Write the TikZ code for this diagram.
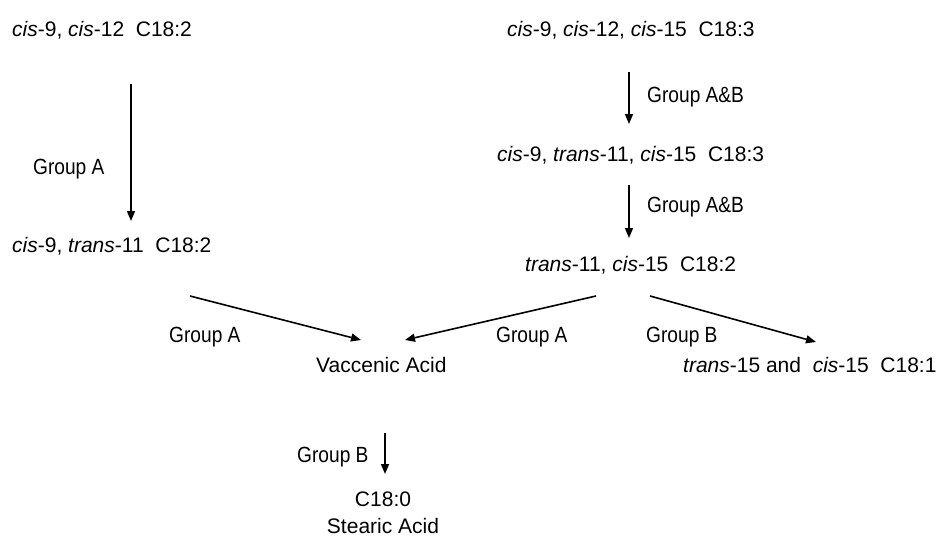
\documentclass[tikz,border=0pt]{standalone}
\usepackage{fontspec}
\setmainfont{Liberation Sans}
\newfontfamily\grpfont[FakeStretch=0.87]{Liberation Sans}
\usetikzlibrary{arrows.meta}
\tikzset{
  lbl/.style={inner sep=0pt, anchor=base west, font=\fontsize{21}{25}\selectfont},
  clbl/.style={inner sep=0pt, anchor=base, font=\fontsize{21}{25}\selectfont},
  grp/.style={inner sep=0pt, anchor=base west, font=\grpfont\fontsize{22}{26}\selectfont},
  arr/.style={line width=1.6pt, -{Triangle[length=10pt,width=8pt]}}
}
\begin{document}
\begin{tikzpicture}[x=1pt,y=-1pt]
\useasboundingbox (0,0) rectangle (939,538);
% compounds
\node[lbl] (t1) at (12,36) {\textit{cis}-9, \textit{cis}-12\ \ C18:2};
\node[lbl] (t2) at (507,36) {\textit{cis}-9, \textit{cis}-12, \textit{cis}-15\ \ C18:3};
\node[lbl] (t3) at (497,161) {\textit{cis}-9, \textit{trans}-11, \textit{cis}-15\ \ C18:3};
\node[lbl] (t4) at (12,252) {\textit{cis}-9, \textit{trans}-11\ \ C18:2};
\node[lbl] (t5) at (525,271) {\textit{trans}-11, \textit{cis}-15\ \ C18:2};
\node[lbl] (va) at (316,372) {Vaccenic Acid};
\node[lbl] (t6) at (683,372) {\textit{trans}-15 and\ \ \textit{cis}-15\ \ C18:1};
\node[clbl] (c18) at (383,506) {C18:0};
\node[clbl] (sa) at (383,533) {Stearic Acid};
% group labels
\node[grp] (gA1) at (33,174) {Group A};
\node[grp] (gAB1) at (647,102) {Group A\&B};
\node[grp] (gAB2) at (647,212) {Group A\&B};
\node[grp] (gA2) at (169,342) {Group A};
\node[grp] (gA3) at (496,342) {Group A};
\node[grp] (gB1) at (646,342) {Group B};
\node[grp] (gB2) at (297,462) {Group B};
% arrow end points
\coordinate (a1s) at (131,84);  \coordinate (a1e) at (131,221);
\coordinate (a2s) at (629,72);  \coordinate (a2e) at (629,124);
\coordinate (a3s) at (629,185); \coordinate (a3e) at (629,238);
\coordinate (a4s) at (190,296); \coordinate (a4e) at (361,340);
\coordinate (a5s) at (596,296); \coordinate (a5e) at (405,340);
\coordinate (a6s) at (650,296); \coordinate (a6e) at (816,342);
\coordinate (a7s) at (385,433); \coordinate (a7e) at (385,474);
\draw[arr] (a1s) -- (a1e);
\draw[arr] (a2s) -- (a2e);
\draw[arr] (a3s) -- (a3e);
\draw[arr] (a4s) -- (a4e);
\draw[arr] (a5s) -- (a5e);
\draw[arr] (a6s) -- (a6e);
\draw[arr] (a7s) -- (a7e);
\end{tikzpicture}
\end{document}
